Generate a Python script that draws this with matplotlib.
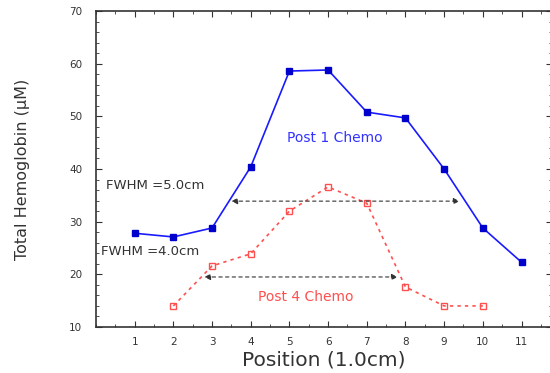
import matplotlib
matplotlib.use("Agg")
import matplotlib.pyplot as plt
from matplotlib.ticker import MultipleLocator

plt.rcParams['font.family'] = ['DejaVu Sans']

# Post 1 Chemo (blue)
pos1 = [1, 2, 3, 4, 5, 6, 7, 8, 9, 10, 11]
hb1 = [27.8, 27.1, 28.8, 40.4, 58.6, 58.8, 50.8, 49.7, 40.0, 28.8, 22.3]

# Post 4 Chemo (red)
pos4 = [2, 3, 4, 5, 6, 7, 8, 9, 10]
hb4 = [14.0, 21.6, 23.9, 32.0, 36.6, 33.5, 17.6, 14.0, 14.0]

# FWHM arrows: (x start, x end, y)
fwhm1 = (3.5, 9.4, 33.9)
fwhm4 = (2.8, 7.8, 19.5)

fig = plt.figure(figsize=(5.5, 3.73), dpi=100)
ax = fig.add_axes([0.1745, 0.1233, 0.83, 0.8472])

ax.plot(pos1, hb1, color='#1a1aff', lw=1.2, marker='s', ms=4.5,
        markerfacecolor='#0000cc', markeredgecolor='#0000cc')
ax.plot(pos4, hb4, color='#ff5050', lw=1.2, ls=(0, (2, 2.5)), marker='s', ms=4,
        markerfacecolor='none', markeredgecolor='#ff5050')

for x0, x1, y in (fwhm1, fwhm4):
    ax.annotate('', xy=(x1, y), xytext=(x0, y),
                arrowprops=dict(arrowstyle='<|-|>', ls=(0, (3, 3)), color='#333333',
                                lw=0.8, mutation_scale=9, shrinkA=0, shrinkB=0))

ax.text(0.27, 36.9, 'FWHM =5.0cm', fontsize=9.5, color='#333333', va='center')
ax.text(0.12, 24.4, 'FWHM =4.0cm', fontsize=9.5, color='#333333', va='center')
ax.text(6.18, 45.9, 'Post 1 Chemo', fontsize=10, color='#3333ff', ha='center', va='center')
ax.text(5.43, 15.7, 'Post 4 Chemo', fontsize=10, color='#ff5050', ha='center', va='center')

ax.set_xlim(0, 11.8)
ax.set_ylim(10, 70)
ax.set_xticks(pos1)
ax.xaxis.set_minor_locator(MultipleLocator(0.5))
ax.yaxis.set_major_locator(MultipleLocator(10))
ax.yaxis.set_minor_locator(MultipleLocator(2))
ax.tick_params(which='both', direction='in', top=True, right=True, labelsize=7.5,
               colors='#333333')
ax.tick_params(axis='y', pad=10)
ax.tick_params(axis='x', pad=7)
ax.tick_params(which='major', length=4)
ax.tick_params(which='minor', length=2)
for s in ax.spines.values():
    s.set_linewidth(1.2)
    s.set_color('#333333')

ax.set_xlabel('Position (1.0cm)', fontsize=14.5, color='#333333', labelpad=3)
ax.set_ylabel('Total Hemoglobin (\u03bcM)', fontsize=11.5, color='#333333', labelpad=28)

fig.savefig('out.png', dpi=100)
